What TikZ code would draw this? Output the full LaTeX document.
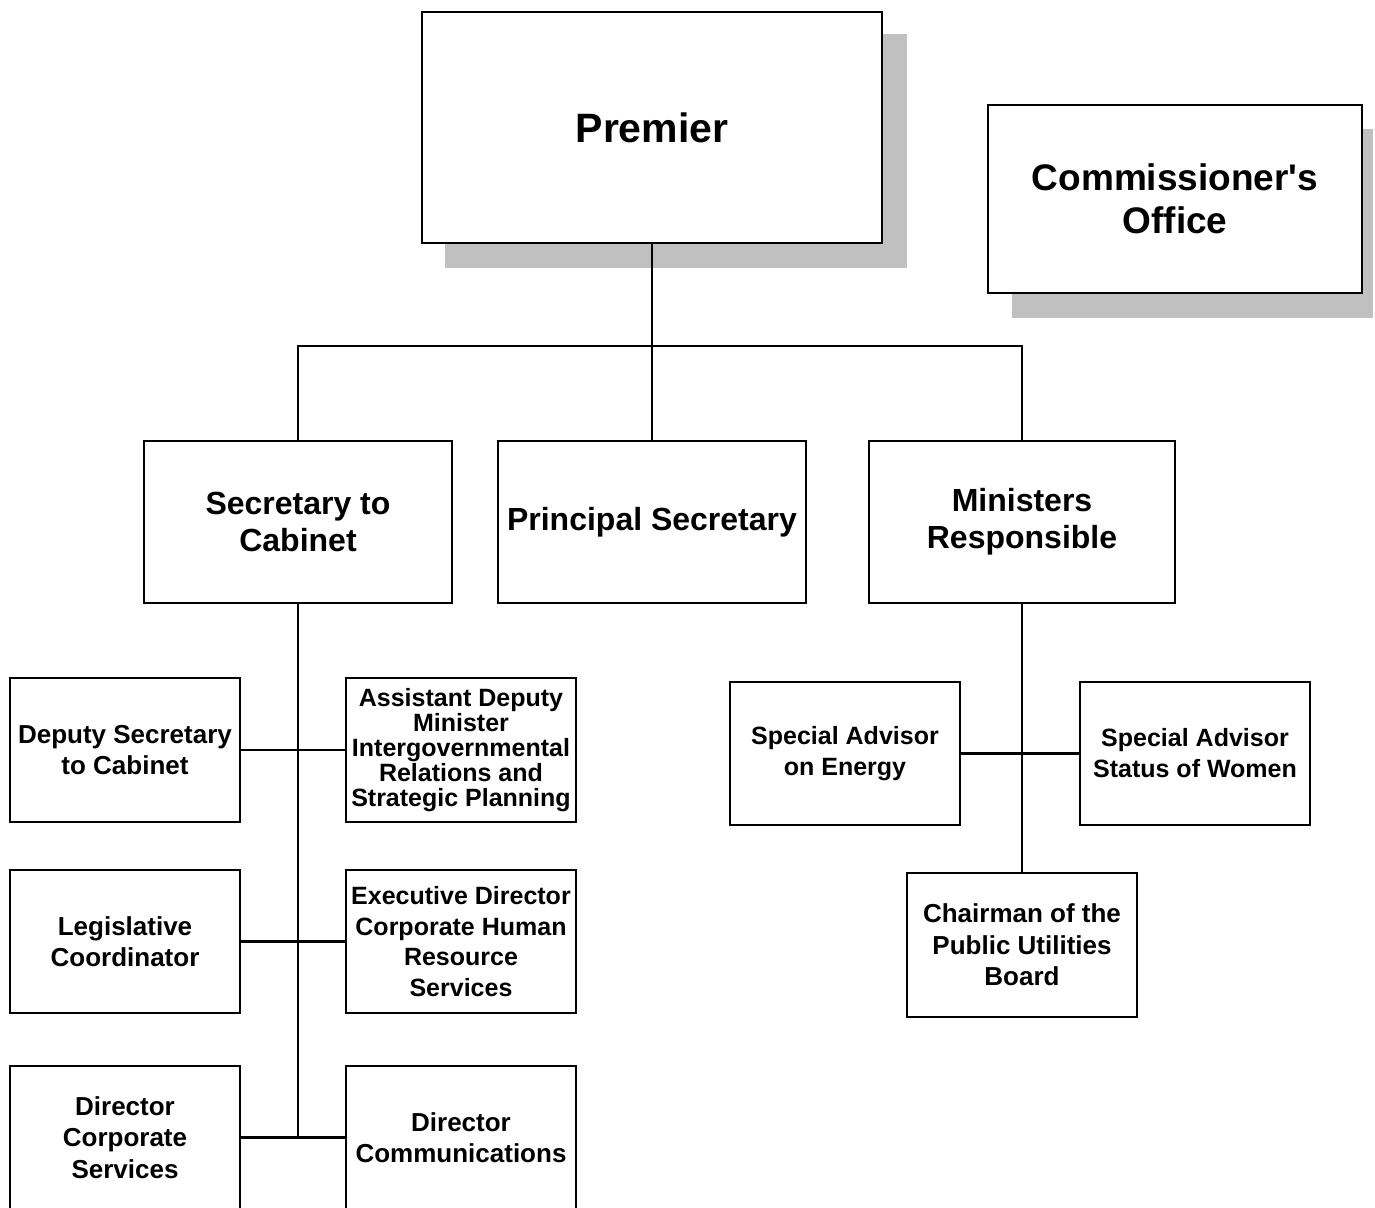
\documentclass[tikz,border=0pt]{standalone}
\usepackage{fontspec}
\setmainfont{Liberation Sans}
\definecolor{shadowgray}{HTML}{C0C0C0}
\tikzset{
  orgbox/.style={draw=black, line width=1.6pt, fill=white, align=center,
    inner sep=0pt, font=\bfseries},
  wire/.style={draw=black, line width=2.1pt},
  huge text/.style={font=\bfseries\fontsize{41}{48}\selectfont},
  big text/.style={font=\bfseries\fontsize{37}{43}\selectfont},
  mid text/.style={font=\bfseries\fontsize{32}{37}\selectfont},
  small text/.style={font=\bfseries\fontsize{26}{31.5}\selectfont},
  tight text/.style={font=\bfseries\fontsize{25}{25}\selectfont},
}
\begin{document}
\begin{tikzpicture}[x=1pt, y=-1pt]
\useasboundingbox (0,0) rectangle (1375,1207);

% top level
\fill[shadowgray] (445,34) rectangle (907,268);
\node[orgbox, huge text, minimum width=460pt, minimum height=231pt] (premier) at (652,127.5) {Premier};

\fill[shadowgray] (1012,129) rectangle (1373,318);
\node[orgbox, big text, minimum width=374pt, minimum height=188pt] (commish) at (1175,199) {Commissioner\textquotesingle s\\Office};

% second level
\node[orgbox, mid text, minimum width=308pt, minimum height=162pt] (seccab) at (298,522) {Secretary to\\Cabinet};
\node[orgbox, mid text, minimum width=308pt, minimum height=162pt] (princ) at (652,522) {Principal Secretary};
\node[orgbox, mid text, minimum width=306pt, minimum height=162pt] (minresp) at (1022,522) {Ministers\\Responsible};

% under the Secretary to Cabinet
\node[orgbox, small text, minimum width=230pt, minimum height=144pt] (depsec) at (125,750) {Deputy Secretary\\to Cabinet};
\node[orgbox, tight text, minimum width=230pt, minimum height=144pt] (adm) at (461,750) {Assistant Deputy\\Minister\\Intergovernmental\\Relations and\\Strategic Planning};
\node[orgbox, small text, minimum width=230pt, minimum height=143pt] (legis) at (125,941.5) {Legislative\\Coordinator};
\node[orgbox, font=\bfseries\fontsize{25}{30.5}\selectfont, minimum width=230pt, minimum height=143pt] (execdir) at (461,941.5) {Executive Director\\Corporate Human\\Resource\\Services};
\node[orgbox, small text, minimum width=230pt, minimum height=143pt] (dircorp) at (125,1137.5) {Director\\Corporate\\Services};
\node[orgbox, small text, minimum width=230pt, minimum height=143pt] (dircomm) at (461,1137.5) {Director\\Communications};

% under the Ministers Responsible
\node[orgbox, font=\bfseries\fontsize{25}{31}\selectfont, minimum width=230pt, minimum height=143pt] (energy) at (845,753.5) {Special Advisor\\on Energy};
\node[orgbox, font=\bfseries\fontsize{25}{31}\selectfont, minimum width=230pt, minimum height=143pt] (women) at (1195,753.5) {Special Advisor\\Status of Women};
\node[orgbox, small text, minimum width=230pt, minimum height=144pt] (chair) at (1022,945) {Chairman of the\\Public Utilities\\Board};

% connectors
\coordinate (bus) at (652,346);
\coordinate (spine) at (298,1137.5);
\draw[wire] (premier.south) -- (princ.north);
\draw[wire] (seccab.north) |- (bus) -| (minresp.north);
\draw[wire] (seccab.south) -- (spine);
\draw[wire] (depsec.east) -- (adm.west);
\draw[wire] (legis.east) -- (execdir.west);
\draw[wire] (dircorp.east) -- (dircomm.west);
\draw[wire] (minresp.south) -- (chair.north);
\draw[wire] (energy.east) -- (women.west);
\end{tikzpicture}
\end{document}
